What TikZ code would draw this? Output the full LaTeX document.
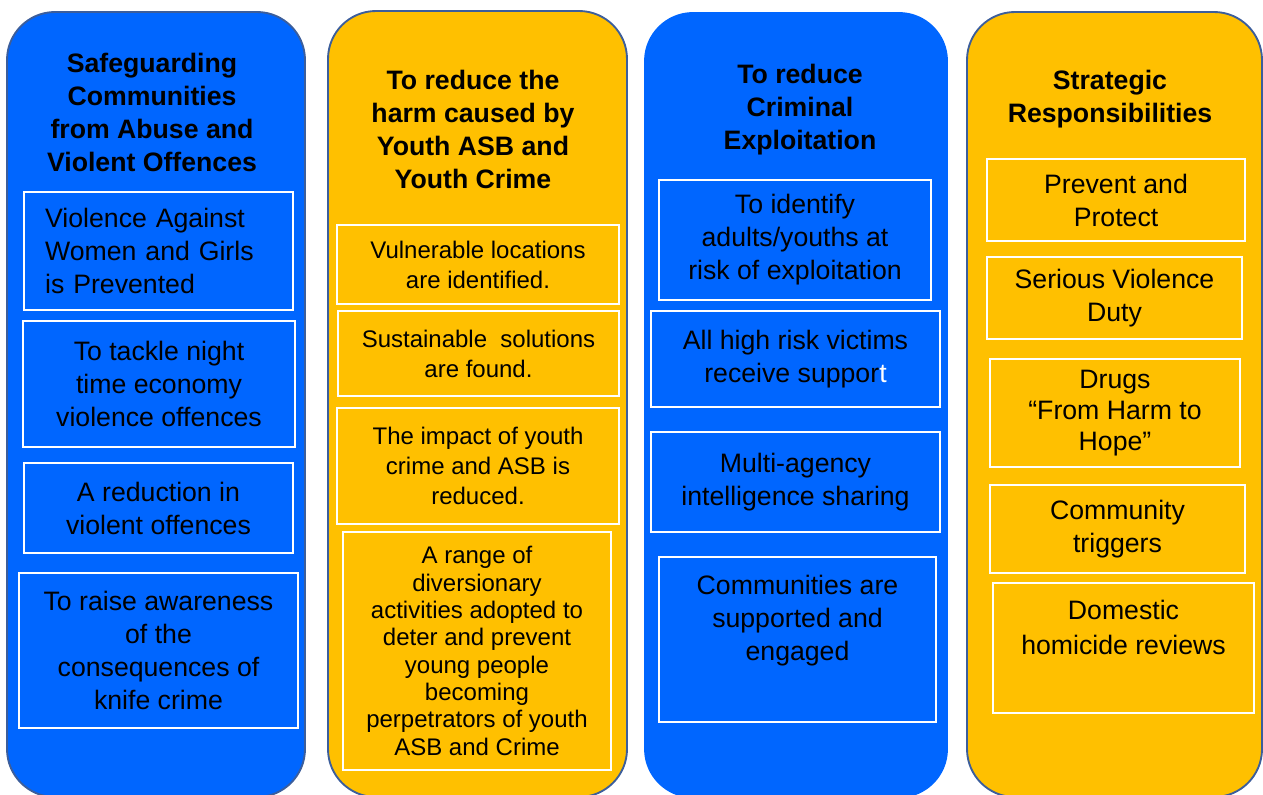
\documentclass[tikz,border=0pt]{standalone}
\usepackage{fontspec}
\setmainfont{Liberation Sans}
\usepackage{xcolor}
\usepackage{tikz}
\usetikzlibrary{positioning}
\definecolor{colblue}{HTML}{0066FF}
\definecolor{colamber}{HTML}{FFC000}
\definecolor{coledge}{HTML}{3C5E9B}
\tikzset{
  column/.style={rounded corners=36pt, line width=1.4pt, draw=coledge},
  heading/.style={font=\bfseries\fontsize{20}{24.75}\selectfont, align=center, inner sep=0pt},
  goal/.style={draw=white, line width=0.8pt, align=center, inner sep=0pt, font=\fontsize{20}{24.75}\selectfont},
  sz/.style 2 args={minimum width=#1*0.75pt, minimum height=#2*0.75pt},
  smaller/.style={font=\fontsize{18}{22.5}\selectfont},
}
\begin{document}
\begin{tikzpicture}[x=0.75pt,y=0.75pt,yscale=-1,xscale=1]
\useasboundingbox (0,0) rectangle (1263,794);
\clip (0,0) rectangle (1263,794);
\draw[column, fill=colblue] (7,12) rectangle (305,797);
\draw[column, fill=colamber] (328,11) rectangle (627,797);
\draw[column, fill=colblue, draw=colblue] (645,13) rectangle (947,797);
\draw[column, fill=colamber] (967,12) rectangle (1262,797);

\node[heading] (safe) at (152,112) {Safeguarding\\Communities\\from Abuse and\\Violent Offences};
\node[goal, sz={269}{118}, align=left, text width=170pt] (vawg) at (158.5,251) {Violence Against\\Women and Girls\\is Prevented};
\node[goal, sz={272}{126}] (night) at (159,384) {To tackle night\\time economy\\violence offences};
\node[goal, sz={269}{90}] (reduce) at (158.5,508) {A reduction in\\violent offences};
\node[goal, sz={279}{155}] (knife) at (158.5,650.5) {To raise awareness\\of the\\consequences of\\knife crime};

\node[heading] (youth) at (473,129) {To reduce the\\harm caused by\\Youth ASB and\\Youth Crime};
\node[goal, smaller, sz={282}{79}] (locations) at (478,264.5) {Vulnerable locations\\are identified.};
\node[goal, smaller, sz={281}{85}] (solutions) at (478.5,353.5) {Sustainable\ \ solutions\\are found.};
\node[goal, smaller, sz={282}{116}] (impact) at (478,466) {The impact of youth\\crime and ASB is\\reduced.};
\node[goal, font=\fontsize{18}{20.5}\selectfont, sz={268}{238}] (diversion) at (477,651) {A range of\\diversionary\\activities adopted to\\deter and prevent\\young people\\becoming\\perpetrators of youth\\ASB and Crime};

\node[heading] (exploit) at (800,110) {To reduce\\Criminal\\Exploitation};
\node[goal, sz={272}{120}] (identify) at (795,240) {To identify\\adults/youths at\\risk of exploitation};
\node[goal, sz={289}{96}] (victims) at (795.5,359) {All high risk victims\\receive suppor\textcolor{white}{t}};
\node[goal, sz={289}{100}] (intel) at (795.5,482) {Multi-agency\\intelligence sharing};
\node[goal, sz={277}{165}] (engage) at (797.5,639.5) {};
\node[heading, font=\fontsize{20}{24.75}\selectfont] (engagetxt) [below=14pt of engage.north] {Communities are\\supported and\\engaged};

\node[heading] (strategic) at (1110,99) {Strategic\\Responsibilities};
\node[goal, sz={258}{82}] (prevent) at (1116,200) {Prevent and\\Protect};
\node[goal, sz={255}{82}] (svd) at (1114.5,298) {Serious Violence\\Duty};
\node[goal, font=\fontsize{20}{23.25}\selectfont, sz={250}{108}] (drugs) at (1115,413) {Drugs\\“From Harm to\\Hope”};
\node[goal, sz={255}{88}] (triggers) at (1117.5,529) {Community\\triggers};
\node[goal, sz={261}{130}] (homicide) at (1123.5,648) {};
\node[heading, font=\fontsize{20}{26}\selectfont] (homicidetxt) [below=13pt of homicide.north] {Domestic\\homicide reviews};
\end{tikzpicture}
\end{document}
